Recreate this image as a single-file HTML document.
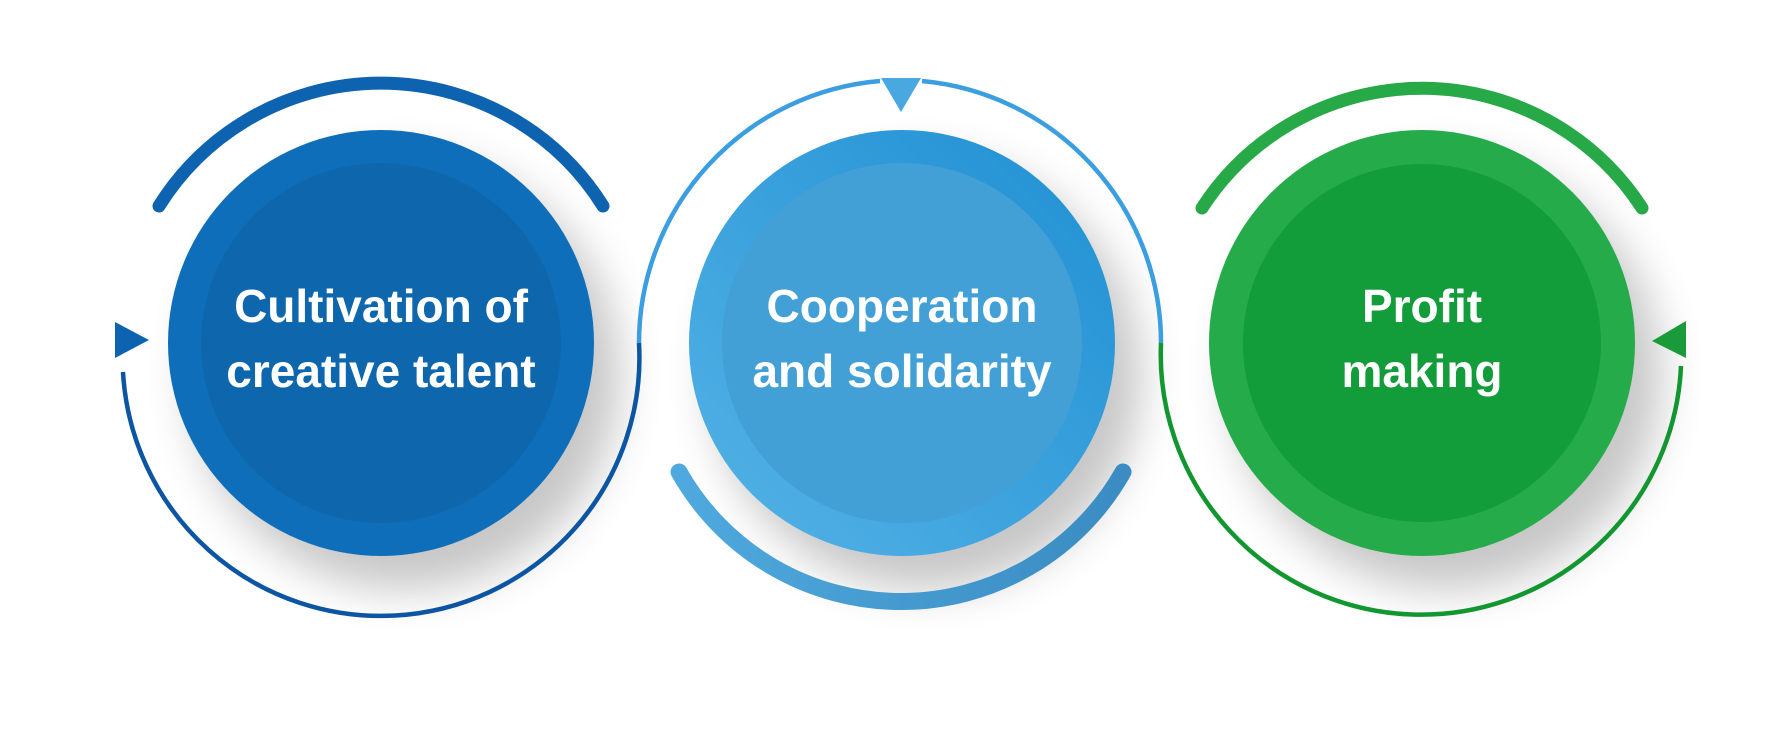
<!DOCTYPE html>
<html><head><meta charset="utf-8"><style>
html,body{margin:0;padding:0;background:#fff;}
svg{display:block;}
text{font-family:"Liberation Sans",sans-serif;font-weight:bold;fill:#fff;font-size:46px;text-anchor:middle;}
</style></head><body>
<svg width="1773" height="730" viewBox="0 0 1773 730" xmlns="http://www.w3.org/2000/svg">
<defs>
<filter id="sh" x="-50%" y="-50%" width="200%" height="200%">
<feGaussianBlur stdDeviation="22"/>
</filter>
<linearGradient id="g2" x1="0" y1="1" x2="1" y2="0">
<stop offset="0" stop-color="#55b3e6"/><stop offset="1" stop-color="#1f8fd3"/>
</linearGradient>
<linearGradient id="g2b" x1="0" y1="0" x2="1" y2="0">
<stop offset="0" stop-color="#4fa9de"/><stop offset="1" stop-color="#3a8cc2"/>
</linearGradient>
</defs>
<!-- shadows -->
<circle cx="405" cy="375" r="215" fill="#000" opacity="0.22" filter="url(#sh)"/>
<circle cx="926" cy="375" r="215" fill="#000" opacity="0.22" filter="url(#sh)"/>
<circle cx="1446" cy="375" r="215" fill="#000" opacity="0.22" filter="url(#sh)"/>

<!-- thin S-curve -->
<path d="M 123 372 A 258 258 0 0 0 639 343" fill="none" stroke="#0b55a3" stroke-width="4.5"/>
<path d="M 639 343 A 263 263 0 0 1 880 81" fill="none" stroke="#3a9ee0" stroke-width="4.5"/>
<path d="M 922 81 A 263 263 0 0 1 1161 343" fill="none" stroke="#3a9ee0" stroke-width="4.5"/>
<path d="M 1161 343 A 260 260 0 0 0 1681 366" fill="none" stroke="#12962f" stroke-width="4.5"/>
<!-- arrows -->
<polygon points="115,322 149,340 115,358" fill="#0e63b0"/>
<polygon points="881,78 921,78 901,112" fill="#4aa8e0"/>
<polygon points="1652,341 1686,321 1686,358" fill="#1b9a3a"/>

<!-- thick top arcs -->
<path d="M 159 206 A 262 262 0 0 1 603 206" fill="none" stroke="#0e63b0" stroke-width="13" stroke-linecap="round"/>
<path d="M 1202 208 A 262 262 0 0 1 1642 208" fill="none" stroke="#27a947" stroke-width="13" stroke-linecap="round"/>
<!-- thick bottom arc circle2 -->
<path d="M 679 472 A 255 255 0 0 0 1123 472" fill="none" stroke="url(#g2b)" stroke-width="17" stroke-linecap="round"/>

<!-- circles -->
<circle cx="381" cy="343" r="213" fill="#0f6eb9"/>
<circle cx="381" cy="343" r="180" fill="#0e67ad"/>
<circle cx="902" cy="343" r="213" fill="url(#g2)"/>
<circle cx="902" cy="343" r="180" fill="#42a0d6"/>
<circle cx="1422" cy="343" r="213" fill="#26ab4a"/>
<circle cx="1422" cy="343" r="179" fill="#139c3a"/>

<!-- labels -->
<text x="381" y="322">Cultivation of</text>
<text x="381" y="387">creative talent</text>
<text x="902" y="322">Cooperation</text>
<text x="902" y="387">and solidarity</text>
<text x="1422" y="322">Profit</text>
<text x="1422" y="387">making</text>
</svg>
</body></html>
